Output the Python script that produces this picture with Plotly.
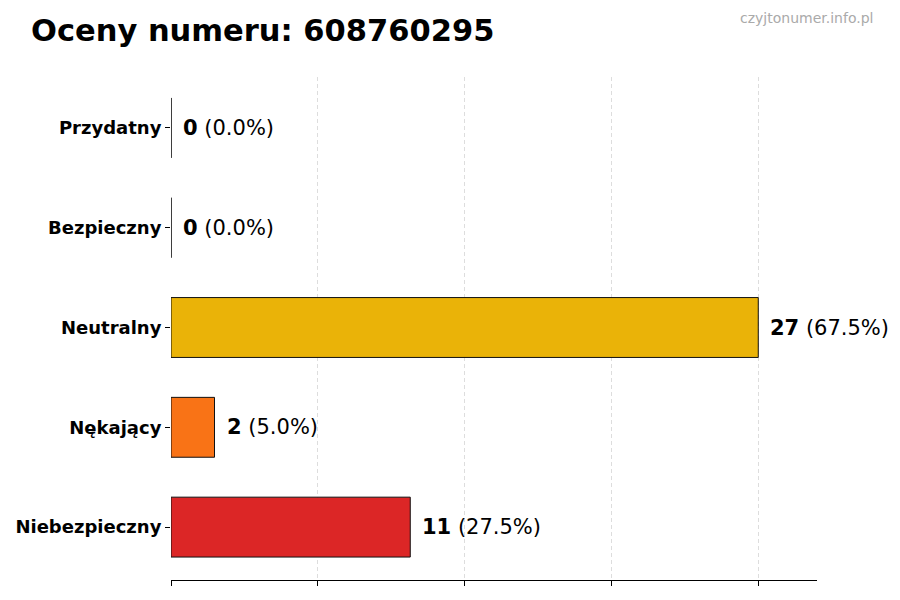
import plotly.graph_objects as go
import numpy as np

categories = ["Niebezpieczny", "Nękający", "Neutralny", "Bezpieczny", "Przydatny"]
values = [11, 2, 27, 0, 0]
colors = ["#DC2626", "#F97316", "#EAB308", "#22C55E", "#16A34A"]
title_text = "Oceny numeru: 608760295"
watermark = "czyjtonumer.info.pl"

total = sum(values)
ypos = list(range(len(categories)))
vmax = max(values)

# page body has an 8px margin; compensate so that the plot lands where the reference has it
OFF = 8
W, H = 900, 600
ML, MR, MT, MB = 171 - OFF, W - (817 - OFF), 77 - OFF, H - (580 - OFF)

fig = go.Figure()
fig.add_trace(go.Bar(
    x=values, y=ypos, orientation="h", width=0.6,
    marker=dict(color=colors, line=dict(color="#111111", width=1)),
    hoverinfo="skip", showlegend=False,
))

# zero-valued bars drawn as outline line at x=0
for yi, v in zip(ypos, values):
    if v == 0:
        fig.add_trace(go.Scatter(
            x=[0, 0], y=[yi - 0.3, yi + 0.3], mode="lines",
            line=dict(color="#333333", width=1), showlegend=False, hoverinfo="skip",
        ))

for yi, v in zip(ypos, values):
    pct = 100.0 * v / total if total else 0
    fig.add_annotation(
        x=v, y=yi, xref="x", yref="y", xanchor="left", yanchor="middle",
        xshift=10, showarrow=False,
        text=f"<b>{v}</b> ({pct:.1f}%)",
        font=dict(family="DejaVu Sans", size=21, color="#000000"),
    )

pw = W - ML - MR
ph = H - MT - MB
fig.add_annotation(
    xref="paper", yref="paper",
    x=1 + (875 - 817) / pw, y=1 + (77 - 18) / ph,
    xanchor="right", yanchor="middle", showarrow=False, text=watermark,
    font=dict(family="DejaVu Sans", size=14, color="#AAAAAA"),
)

fig.update_layout(
    width=W, height=H,
    paper_bgcolor="white", plot_bgcolor="white",
    margin=dict(l=ML, r=MR, t=MT, b=MB, autoexpand=False),
    title=dict(
        text=f"<b>{title_text}</b>", x=(31 - OFF) / W, xanchor="left", xref="container",
        y=1 - (30 - OFF) / H, yref="container", yanchor="middle",
        font=dict(family="DejaVu Sans", size=30.5, color="#000000"),
    ),
    xaxis=dict(
        range=[0, vmax * 1.1], tickvals=list(np.linspace(0, vmax, 5)),
        showticklabels=False, ticks="outside", ticklen=5, tickcolor="#000000",
        showline=True, linecolor="#000000", linewidth=1,
        showgrid=True, gridcolor="#DDDDDD", griddash="4px,3px", gridwidth=1,
        zeroline=False, automargin=False,
    ),
    yaxis=dict(
        range=[-0.53, len(categories) - 1 + 0.51],
        tickvals=ypos, ticktext=categories,
        ticks="outside", ticklen=5, tickcolor="#000000",
        tickfont=dict(family="DejaVu Sans", size=18, color="#000000", weight="bold"),
        showline=False, showgrid=False, zeroline=False, automargin=False,
    ),
)

fig.write_html("out.html")
